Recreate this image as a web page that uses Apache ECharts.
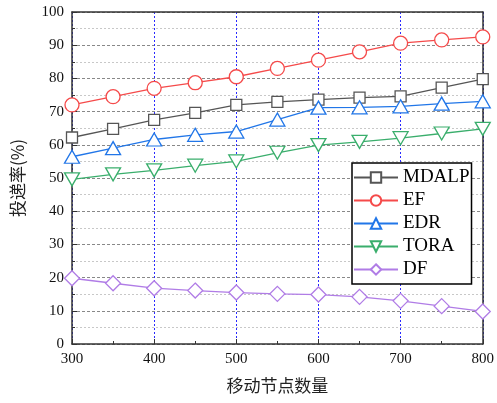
<!DOCTYPE html>
<html><head><meta charset="utf-8">
<script src="https://cdn.jsdelivr.net/npm/echarts@6/dist/echarts.min.js"></script>
<style>html,body{margin:0;padding:0;background:#fff}#c{width:497px;height:403px}</style>
</head><body><div id="c"></div>
<script>
const nodes = [300,350,400,450,500,550,600,650,700,750,800];
const MDALP = [62.2,64.8,67.5,69.6,72.0,72.9,73.6,74.2,74.6,77.2,79.8];
const EF    = [72.0,74.5,77.0,78.7,80.5,83.0,85.5,88.0,90.6,91.6,92.5];
const EDR   = [56.4,59.0,61.6,63.0,64.0,67.6,71.2,71.3,71.6,72.4,73.1];
const TORA  = [49.6,51.1,52.3,53.7,55.0,57.6,59.9,60.9,62.0,63.4,64.8];
const DF    = [19.8,18.3,16.8,16.1,15.5,15.1,14.9,14.2,13.0,11.4,9.8];
const seriesNames = ['MDALP','EF','EDR','TORA','DF'];
const seriesData = [MDALP,EF,EDR,TORA,DF];
const colors = ['#555555','#f54a4a','#2176e8','#3aae6c','#b07ce6'];
const symbols = ['rect','circle','triangle','path://M0,0 L10,0 L5,9 Z','diamond'];
const symbolSizes = [11,14,[15,13],[15,13],15];

const chart = echarts.init(document.getElementById('c'), null, {renderer:'canvas'});
const serif = 'Liberation Serif, Times New Roman, serif';
const cjk = 'Noto Sans CJK SC, sans-serif';
chart.setOption({
  animation:false,
  backgroundColor:'#fff',
  grid:{left:72,right:11,top:12,bottom:59,containLabel:false},
  legend:{
    orient:'vertical', left:352, top:163,
    backgroundColor:'#fff', borderColor:'#000', borderWidth:1.5,
    padding:[5,2,5,1], itemGap:4, itemWidth:44, itemHeight:13,
    textStyle:{fontFamily:serif,fontSize:19,lineHeight:19,color:'#000'},
    data:seriesNames
  },
  xAxis:[{
    type:'value', min:300, max:800, interval:100,
    name:'移动节点数量', nameLocation:'middle', nameGap:33,
    nameTextStyle:{fontFamily:cjk,fontSize:17,color:'#222'},
    axisLine:{show:true,onZero:false,lineStyle:{color:'#333',width:1.5}},
    axisTick:{show:true,inside:true,length:5,lineStyle:{color:'#333'}},
    minorTick:{show:true,splitNumber:2,length:3,lineStyle:{color:'#333'}},
    axisLabel:{fontFamily:serif,fontSize:15,color:'#111',margin:8},
    splitLine:{show:true,lineStyle:{color:'#2a2aff',type:[2,2],width:1}}
  },{
    type:'value', min:300, max:800, interval:100, position:'top',
    axisLine:{show:true,onZero:false,lineStyle:{color:'#333',width:1.5}},
    axisTick:{show:false}, axisLabel:{show:false}, splitLine:{show:false}
  }],
  yAxis:[{
    type:'value', min:0, max:100, interval:10,
    name:'投递率(%)', nameLocation:'middle', nameGap:46,
    nameTextStyle:{fontFamily:cjk,fontSize:17,color:'#222'},
    axisLine:{show:true,onZero:false,lineStyle:{color:'#333',width:1.5}},
    axisTick:{show:true,inside:true,length:5,lineStyle:{color:'#333'}},
    minorTick:{show:true,splitNumber:2,length:3,lineStyle:{color:'#333'}},
    axisLabel:{fontFamily:serif,fontSize:15,color:'#111',margin:8},
    splitLine:{show:true,lineStyle:{color:'#888',type:[3,2],width:1}},
    minorSplitLine:{show:true,lineStyle:{color:'#c8c8c8',type:[2,2],width:1}}
  },{
    type:'value', min:0, max:100, interval:10, position:'right',
    axisLine:{show:true,onZero:false,lineStyle:{color:'#333',width:1.5}},
    axisTick:{show:false}, axisLabel:{show:false}, splitLine:{show:false}
  }],
  series: seriesNames.map((n,i)=>({
    name:n, type:'line',
    data: nodes.map((x,j)=>[x, seriesData[i][j]]),
    symbol: symbols[i], symbolSize: symbolSizes[i],
    showAllSymbol:true,
    lineStyle:{color:colors[i],width:1.3},
    itemStyle:{color:'#fff',borderColor:colors[i],borderWidth:1.3},
    clip:false, z:3+i
  }))
});
</script></body></html>
